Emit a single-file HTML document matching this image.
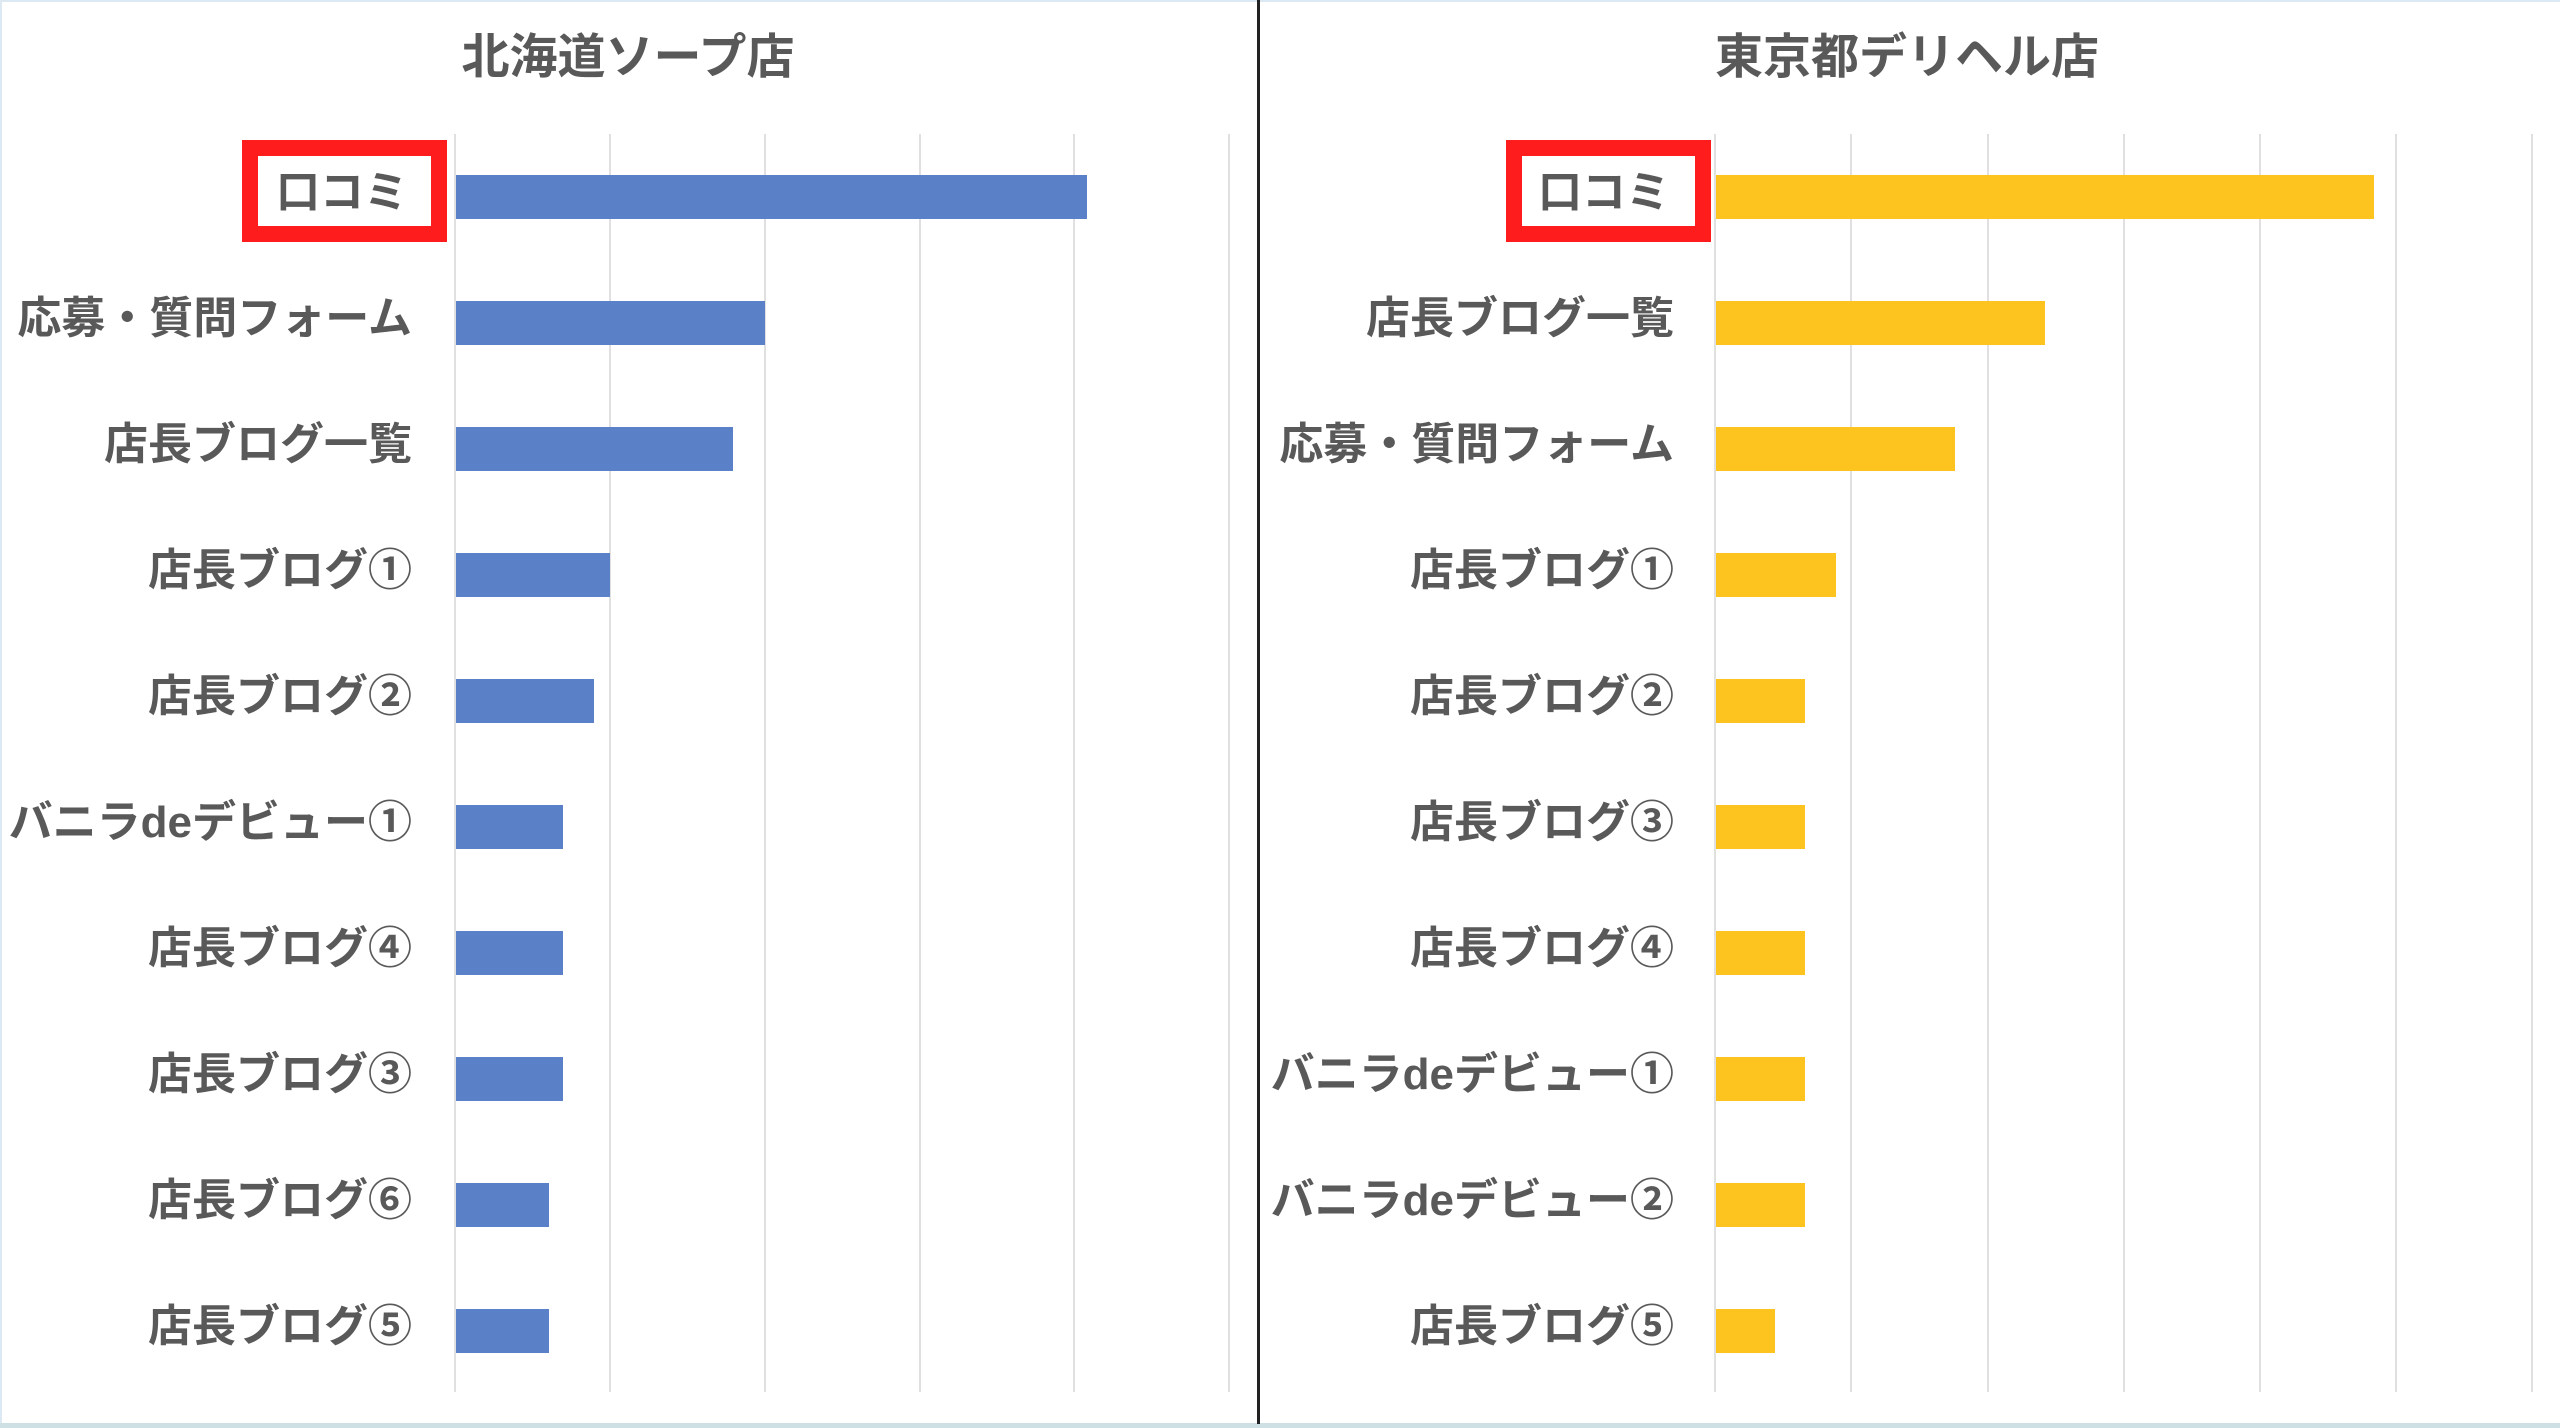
<!DOCTYPE html>
<html><head><meta charset="utf-8"><style>
body{margin:0;width:2560px;height:1428px;background:#fff;position:relative;overflow:hidden;font-family:"Liberation Sans","Noto Sans CJK JP",sans-serif;}
.g{position:absolute;top:134px;height:1258px;width:2px;background:#e0e0e0;}
.b{position:absolute;height:44px;}
.l{position:absolute;width:600px;text-align:right;font-weight:bold;font-size:44px;color:#595959;line-height:50px;white-space:nowrap;}
.t{position:absolute;top:28px;font-weight:bold;font-size:48px;color:#595959;text-align:center;width:600px;line-height:60px;}
.box{position:absolute;border:16px solid #ff1c1c;box-sizing:border-box;}
</style></head><body>
<div style="position:absolute;left:0;top:0;width:2560px;height:2px;background:#dce8f2"></div>
<div style="position:absolute;left:0;top:0;width:2px;height:1428px;background:#dce8f2"></div>
<div style="position:absolute;left:0;top:1423px;width:2560px;height:5px;background:#cfe0e4"></div>
<div style="position:absolute;left:1257px;top:0;width:3px;height:1424px;background:#222"></div>

<div class="t" style="left:328px">北海道ソープ店</div>
<div class="t" style="left:1607px">東京都デリヘル店</div>

<div class="g" style="left:454px"></div><div class="g" style="left:609px"></div><div class="g" style="left:764px"></div><div class="g" style="left:919px"></div><div class="g" style="left:1073px"></div><div class="g" style="left:1228px"></div>
<div class="g" style="left:1714px"></div><div class="g" style="left:1850px"></div><div class="g" style="left:1987px"></div><div class="g" style="left:2123px"></div><div class="g" style="left:2259px"></div><div class="g" style="left:2395px"></div><div class="g" style="left:2531px"></div>

<div class="box" style="left:242px;top:140px;width:205px;height:102px"></div>
<div class="box" style="left:1506px;top:140px;width:205px;height:102px"></div>

<div class="b" style="background:#5a80c8;left:456px;width:631px;top:175px"></div>
<div class="b" style="background:#5a80c8;left:456px;width:309px;top:301px"></div>
<div class="b" style="background:#5a80c8;left:456px;width:277px;top:427px"></div>
<div class="b" style="background:#5a80c8;left:456px;width:154px;top:553px"></div>
<div class="b" style="background:#5a80c8;left:456px;width:138px;top:679px"></div>
<div class="b" style="background:#5a80c8;left:456px;width:107px;top:805px"></div>
<div class="b" style="background:#5a80c8;left:456px;width:107px;top:931px"></div>
<div class="b" style="background:#5a80c8;left:456px;width:107px;top:1057px"></div>
<div class="b" style="background:#5a80c8;left:456px;width:93px;top:1183px"></div>
<div class="b" style="background:#5a80c8;left:456px;width:93px;top:1309px"></div>

<div class="b" style="background:#fdc31f;left:1716px;width:658px;top:175px"></div>
<div class="b" style="background:#fdc31f;left:1716px;width:329px;top:301px"></div>
<div class="b" style="background:#fdc31f;left:1716px;width:239px;top:427px"></div>
<div class="b" style="background:#fdc31f;left:1716px;width:120px;top:553px"></div>
<div class="b" style="background:#fdc31f;left:1716px;width:89px;top:679px"></div>
<div class="b" style="background:#fdc31f;left:1716px;width:89px;top:805px"></div>
<div class="b" style="background:#fdc31f;left:1716px;width:89px;top:931px"></div>
<div class="b" style="background:#fdc31f;left:1716px;width:89px;top:1057px"></div>
<div class="b" style="background:#fdc31f;left:1716px;width:89px;top:1183px"></div>
<div class="b" style="background:#fdc31f;left:1716px;width:59px;top:1309px"></div>

<div class="l" style="left:-192px;top:168px">口コミ</div>
<div class="l" style="left:-188px;top:294px">応募・質問フォーム</div>
<div class="l" style="left:-188px;top:420px">店長ブログ一覧</div>
<div class="l" style="left:-188px;top:546px">店長ブログ①</div>
<div class="l" style="left:-188px;top:672px">店長ブログ②</div>
<div class="l" style="left:-188px;top:798px">バニラdeデビュー①</div>
<div class="l" style="left:-188px;top:924px">店長ブログ④</div>
<div class="l" style="left:-188px;top:1050px">店長ブログ③</div>
<div class="l" style="left:-188px;top:1176px">店長ブログ⑥</div>
<div class="l" style="left:-188px;top:1302px">店長ブログ⑤</div>

<div class="l" style="left:1070px;top:168px">口コミ</div>
<div class="l" style="left:1074px;top:294px">店長ブログ一覧</div>
<div class="l" style="left:1074px;top:420px">応募・質問フォーム</div>
<div class="l" style="left:1074px;top:546px">店長ブログ①</div>
<div class="l" style="left:1074px;top:672px">店長ブログ②</div>
<div class="l" style="left:1074px;top:798px">店長ブログ③</div>
<div class="l" style="left:1074px;top:924px">店長ブログ④</div>
<div class="l" style="left:1074px;top:1050px">バニラdeデビュー①</div>
<div class="l" style="left:1074px;top:1176px">バニラdeデビュー②</div>
<div class="l" style="left:1074px;top:1302px">店長ブログ⑤</div>
</body></html>
